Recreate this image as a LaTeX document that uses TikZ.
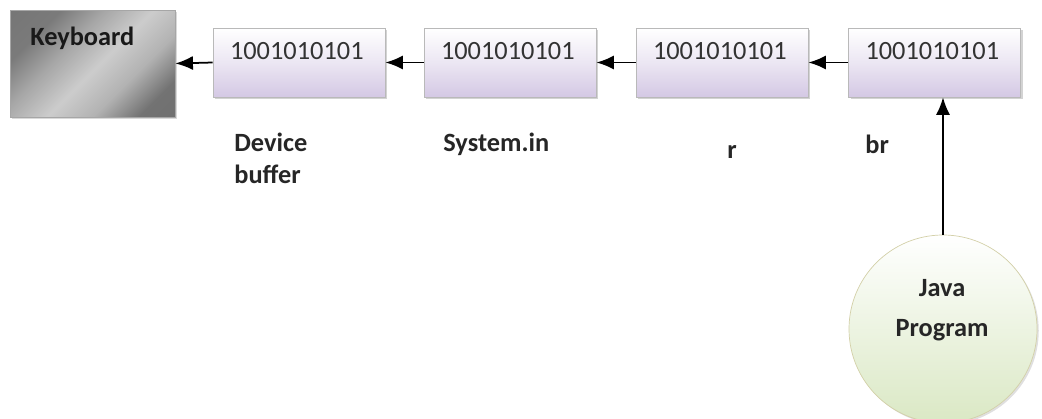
\documentclass[tikz,border=0pt]{standalone}
\usepackage{fontspec}
\setmainfont{Carlito}
\usetikzlibrary{arrows.meta,shadows}
\definecolor{lavender}{RGB}{212,200,228}
\definecolor{palegreen}{RGB}{218,232,196}
\pgfdeclarehorizontalshading{kbshade}{100bp}{color(0bp)=(black!56); color(28bp)=(black!52); color(40bp)=(black!34); color(52bp)=(black!20); color(64bp)=(black!30); color(76bp)=(black!55); color(100bp)=(black!58)}
\begin{document}
\begin{tikzpicture}[x=0.02cm,y=-0.02cm,
  lbl/.style={font=\fontsize{15}{19}\selectfont\bfseries, text=black!85, align=left, inner sep=0pt},
  buf/.style={minimum width=172*0.02cm, minimum height=69*0.02cm, inner sep=0pt,
    draw=gray!55, top color=white, bottom color=lavender, middle color=lavender!45,
    drop shadow={shadow xshift=1.2pt, shadow yshift=-1.2pt, opacity=0.35}},
  bits/.style={font=\fontsize{15}{18}\selectfont, text=black!80, inner sep=0pt},
  link/.style={-{Latex[length=10pt,width=8pt]}, line width=1pt, black}]
\useasboundingbox (0,0) rectangle (1042,419);

% keyboard
\node[minimum width=165*0.02cm, minimum height=107*0.02cm, inner sep=0pt,
  draw=gray!70, shading=kbshade, shading angle=-45,
  drop shadow={shadow xshift=1pt, shadow yshift=-1pt, opacity=0.3}]
  (kb) at (92.5,63.5) {};
\node[lbl, anchor=west, text=black!90] (kbt) at (30,38) {Keyboard};

% buffer boxes
\node[buf] (b1) at (299,62.5) {};
\node[buf] (b2) at (510,62.5) {};
\node[buf] (b3) at (722,62.5) {};
\node[buf] (b4) at (934.5,62.5) {};
\foreach \b in {b1,b2,b3,b4}
  \node[bits, anchor=north west] at ([xshift=17*0.02cm,yshift=-14*0.02cm]\b.north west) {1001010101};

% captions
\node[lbl, anchor=north west] (c1) at (234,133) {Device\\[-1pt]buffer};
\node[lbl, anchor=north west] (c2) at (443,133) {System.in};
\node[lbl, anchor=north west] (c3) at (727,145) {r};
\node[lbl, anchor=north west] (c4) at (865,135) {br};

% program
\node[circle, minimum size=188*0.02cm, inner sep=0pt, draw=gray!50!olive!40,
  top color=white, bottom color=palegreen,
  drop shadow={shadow xshift=1pt, shadow yshift=-1pt, opacity=0.25}]
  (jp) at (943,329) {};
\node[lbl, align=center] (jpt) at (942,310) {Java\\[4pt]Program};

% data flow
\draw[link] (b1.west) -- (kb.east);
\draw[link] (b2.west) -- (b1.east);
\draw[link] (b3.west) -- (b2.east);
\draw[link] (b4.west) -- (b3.east);
\draw[link] (jp.north) -- (jp.north |- b4.south);
\end{tikzpicture}
\end{document}
